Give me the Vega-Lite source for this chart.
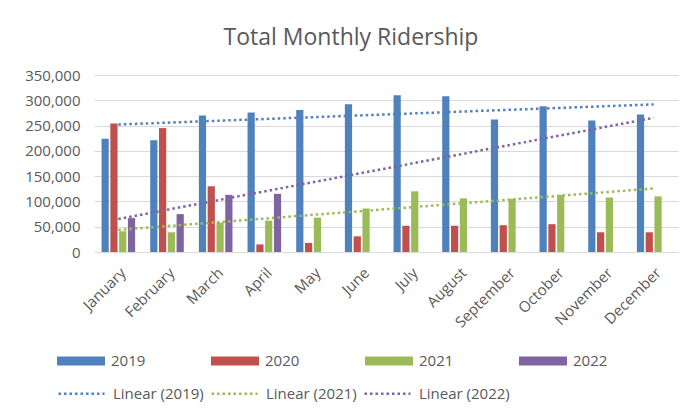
{
  "$schema": "https://vega.github.io/schema/vega-lite/v6.json",
  "width": 584,
  "height": 177,
  "autosize": {"type": "none"},
  "padding": {"left": 94, "top": 75, "right": 5, "bottom": 164},
  "background": "white",
  "config": {
    "font": "Open Sans",
    "view": {"stroke": null},
    "axis": {"labelFont": "Open Sans", "labelColor": "#595959", "labelFontSize": 15},
    "legend": {"labelFont": "Open Sans", "labelColor": "#595959", "labelFontSize": 15}
  },
  "title": {
    "text": "Total Monthly Ridership",
    "font": "Open Sans",
    "fontSize": 23,
    "fontWeight": "normal",
    "color": "#595959",
    "anchor": "middle",
    "frame": "group",
    "dx": -35,
    "offset": 18
  },
  "datasets": {
    "months": [
      {"m": 1, "month": "January"}, {"m": 2, "month": "February"}, {"m": 3, "month": "March"},
      {"m": 4, "month": "April"}, {"m": 5, "month": "May"}, {"m": 6, "month": "June"},
      {"m": 7, "month": "July"}, {"m": 8, "month": "August"}, {"m": 9, "month": "September"},
      {"m": 10, "month": "October"}, {"m": 11, "month": "November"}, {"m": 12, "month": "December"}
    ],
    "riders": [
      {"month": "January", "m": 1, "year": "2019", "value": 224000},
      {"month": "February", "m": 2, "year": "2019", "value": 221000},
      {"month": "March", "m": 3, "year": "2019", "value": 270000},
      {"month": "April", "m": 4, "year": "2019", "value": 276000},
      {"month": "May", "m": 5, "year": "2019", "value": 281000},
      {"month": "June", "m": 6, "year": "2019", "value": 292000},
      {"month": "July", "m": 7, "year": "2019", "value": 310000},
      {"month": "August", "m": 8, "year": "2019", "value": 308000},
      {"month": "September", "m": 9, "year": "2019", "value": 262000},
      {"month": "October", "m": 10, "year": "2019", "value": 288000},
      {"month": "November", "m": 11, "year": "2019", "value": 260000},
      {"month": "December", "m": 12, "year": "2019", "value": 272000},
      {"month": "January", "m": 1, "year": "2020", "value": 254000},
      {"month": "February", "m": 2, "year": "2020", "value": 245000},
      {"month": "March", "m": 3, "year": "2020", "value": 130000},
      {"month": "April", "m": 4, "year": "2020", "value": 15000},
      {"month": "May", "m": 5, "year": "2020", "value": 18000},
      {"month": "June", "m": 6, "year": "2020", "value": 31000},
      {"month": "July", "m": 7, "year": "2020", "value": 52000},
      {"month": "August", "m": 8, "year": "2020", "value": 52000},
      {"month": "September", "m": 9, "year": "2020", "value": 53000},
      {"month": "October", "m": 10, "year": "2020", "value": 55000},
      {"month": "November", "m": 11, "year": "2020", "value": 39000},
      {"month": "December", "m": 12, "year": "2020", "value": 39000},
      {"month": "January", "m": 1, "year": "2021", "value": 41000},
      {"month": "February", "m": 2, "year": "2021", "value": 39000},
      {"month": "March", "m": 3, "year": "2021", "value": 58000},
      {"month": "April", "m": 4, "year": "2021", "value": 62000},
      {"month": "May", "m": 5, "year": "2021", "value": 68000},
      {"month": "June", "m": 6, "year": "2021", "value": 86000},
      {"month": "July", "m": 7, "year": "2021", "value": 120000},
      {"month": "August", "m": 8, "year": "2021", "value": 106000},
      {"month": "September", "m": 9, "year": "2021", "value": 105000},
      {"month": "October", "m": 10, "year": "2021", "value": 113000},
      {"month": "November", "m": 11, "year": "2021", "value": 108000},
      {"month": "December", "m": 12, "year": "2021", "value": 110000},
      {"month": "January", "m": 1, "year": "2022", "value": 67000},
      {"month": "February", "m": 2, "year": "2022", "value": 75000},
      {"month": "March", "m": 3, "year": "2022", "value": 113000},
      {"month": "April", "m": 4, "year": "2022", "value": 115000}
    ]
  },
  "data": {"name": "riders"},
  "encoding": {
    "x": {
      "field": "month", "type": "nominal",
      "scale": {"domain": ["January","February","March","April","May","June","July","August","September","October","November","December"], "paddingInner": 0.31, "paddingOuter": 0.155},
      "axis": {"title": null, "labelAngle": -45, "ticks": false, "tickSize": 0, "domainColor": "#D9D9D9", "domainWidth": 1, "labelPadding": 13, "labelDx": -3, "labelOverlap": false}
    },
    "y": {
      "field": "value", "type": "quantitative",
      "scale": {"domain": [0, 350000]},
      "axis": {"title": null, "values": [0,50000,100000,150000,200000,250000,300000,350000], "format": ",.0f", "labelOverlap": false, "domain": false, "ticks": false, "tickSize": 0, "labelPadding": 14, "gridColor": "#D9D9D9", "gridWidth": 1}
    }
  },
  "layer": [
    {
      "mark": {"type": "bar"},
      "encoding": {
        "xOffset": {"field": "year", "type": "nominal", "scale": {"domain": ["2019","2020","2021","2022"], "paddingInner": 0.18}},
        "fill": {
          "field": "year", "type": "nominal",
          "scale": {"domain": ["2019","2020","2021","2022"], "range": ["#4F81BD","#C0504D","#9BBB59","#8064A2"]},
          "legend": {
            "title": null, "orient": "none", "legendX": -37, "legendY": 262,
            "direction": "horizontal", "columns": 4, "columnPadding": 65, "padding": 0,
            "symbolType": "M-1,-0.1875H1V0.1875H-1Z", "symbolSize": 2304, "symbolStrokeWidth": 0,
            "labelOffset": 6
          }
        }
      }
    },
    {
      "transform": [
        {"filter": "datum.year != '2020'"},
        {"regression": "value", "on": "m", "groupby": ["year"], "method": "linear", "extent": [1, 12]},
        {"lookup": "m", "from": {"data": {"name": "months"}, "key": "m", "fields": ["month"]}}
      ],
      "mark": {"type": "line", "strokeWidth": 2.5, "strokeDash": [2.5, 3]},
      "encoding": {
        "stroke": {
          "field": "year", "type": "nominal",
          "scale": {"domain": ["2019","2021","2022"], "range": ["#4F81BD","#9BBB59","#8064A2"]},
          "legend": {
            "title": null, "orient": "none", "legendX": -37, "legendY": 294,
            "direction": "horizontal", "columns": 3, "columnPadding": 2, "padding": 0,
            "symbolType": "stroke", "symbolSize": 2116, "symbolStrokeWidth": 2.5, "symbolDash": [2.5, 3],
            "labelOffset": 7,
            "labelExpr": "'Linear (' + datum.label + ')'"
          }
        }
      }
    }
  ]
}
